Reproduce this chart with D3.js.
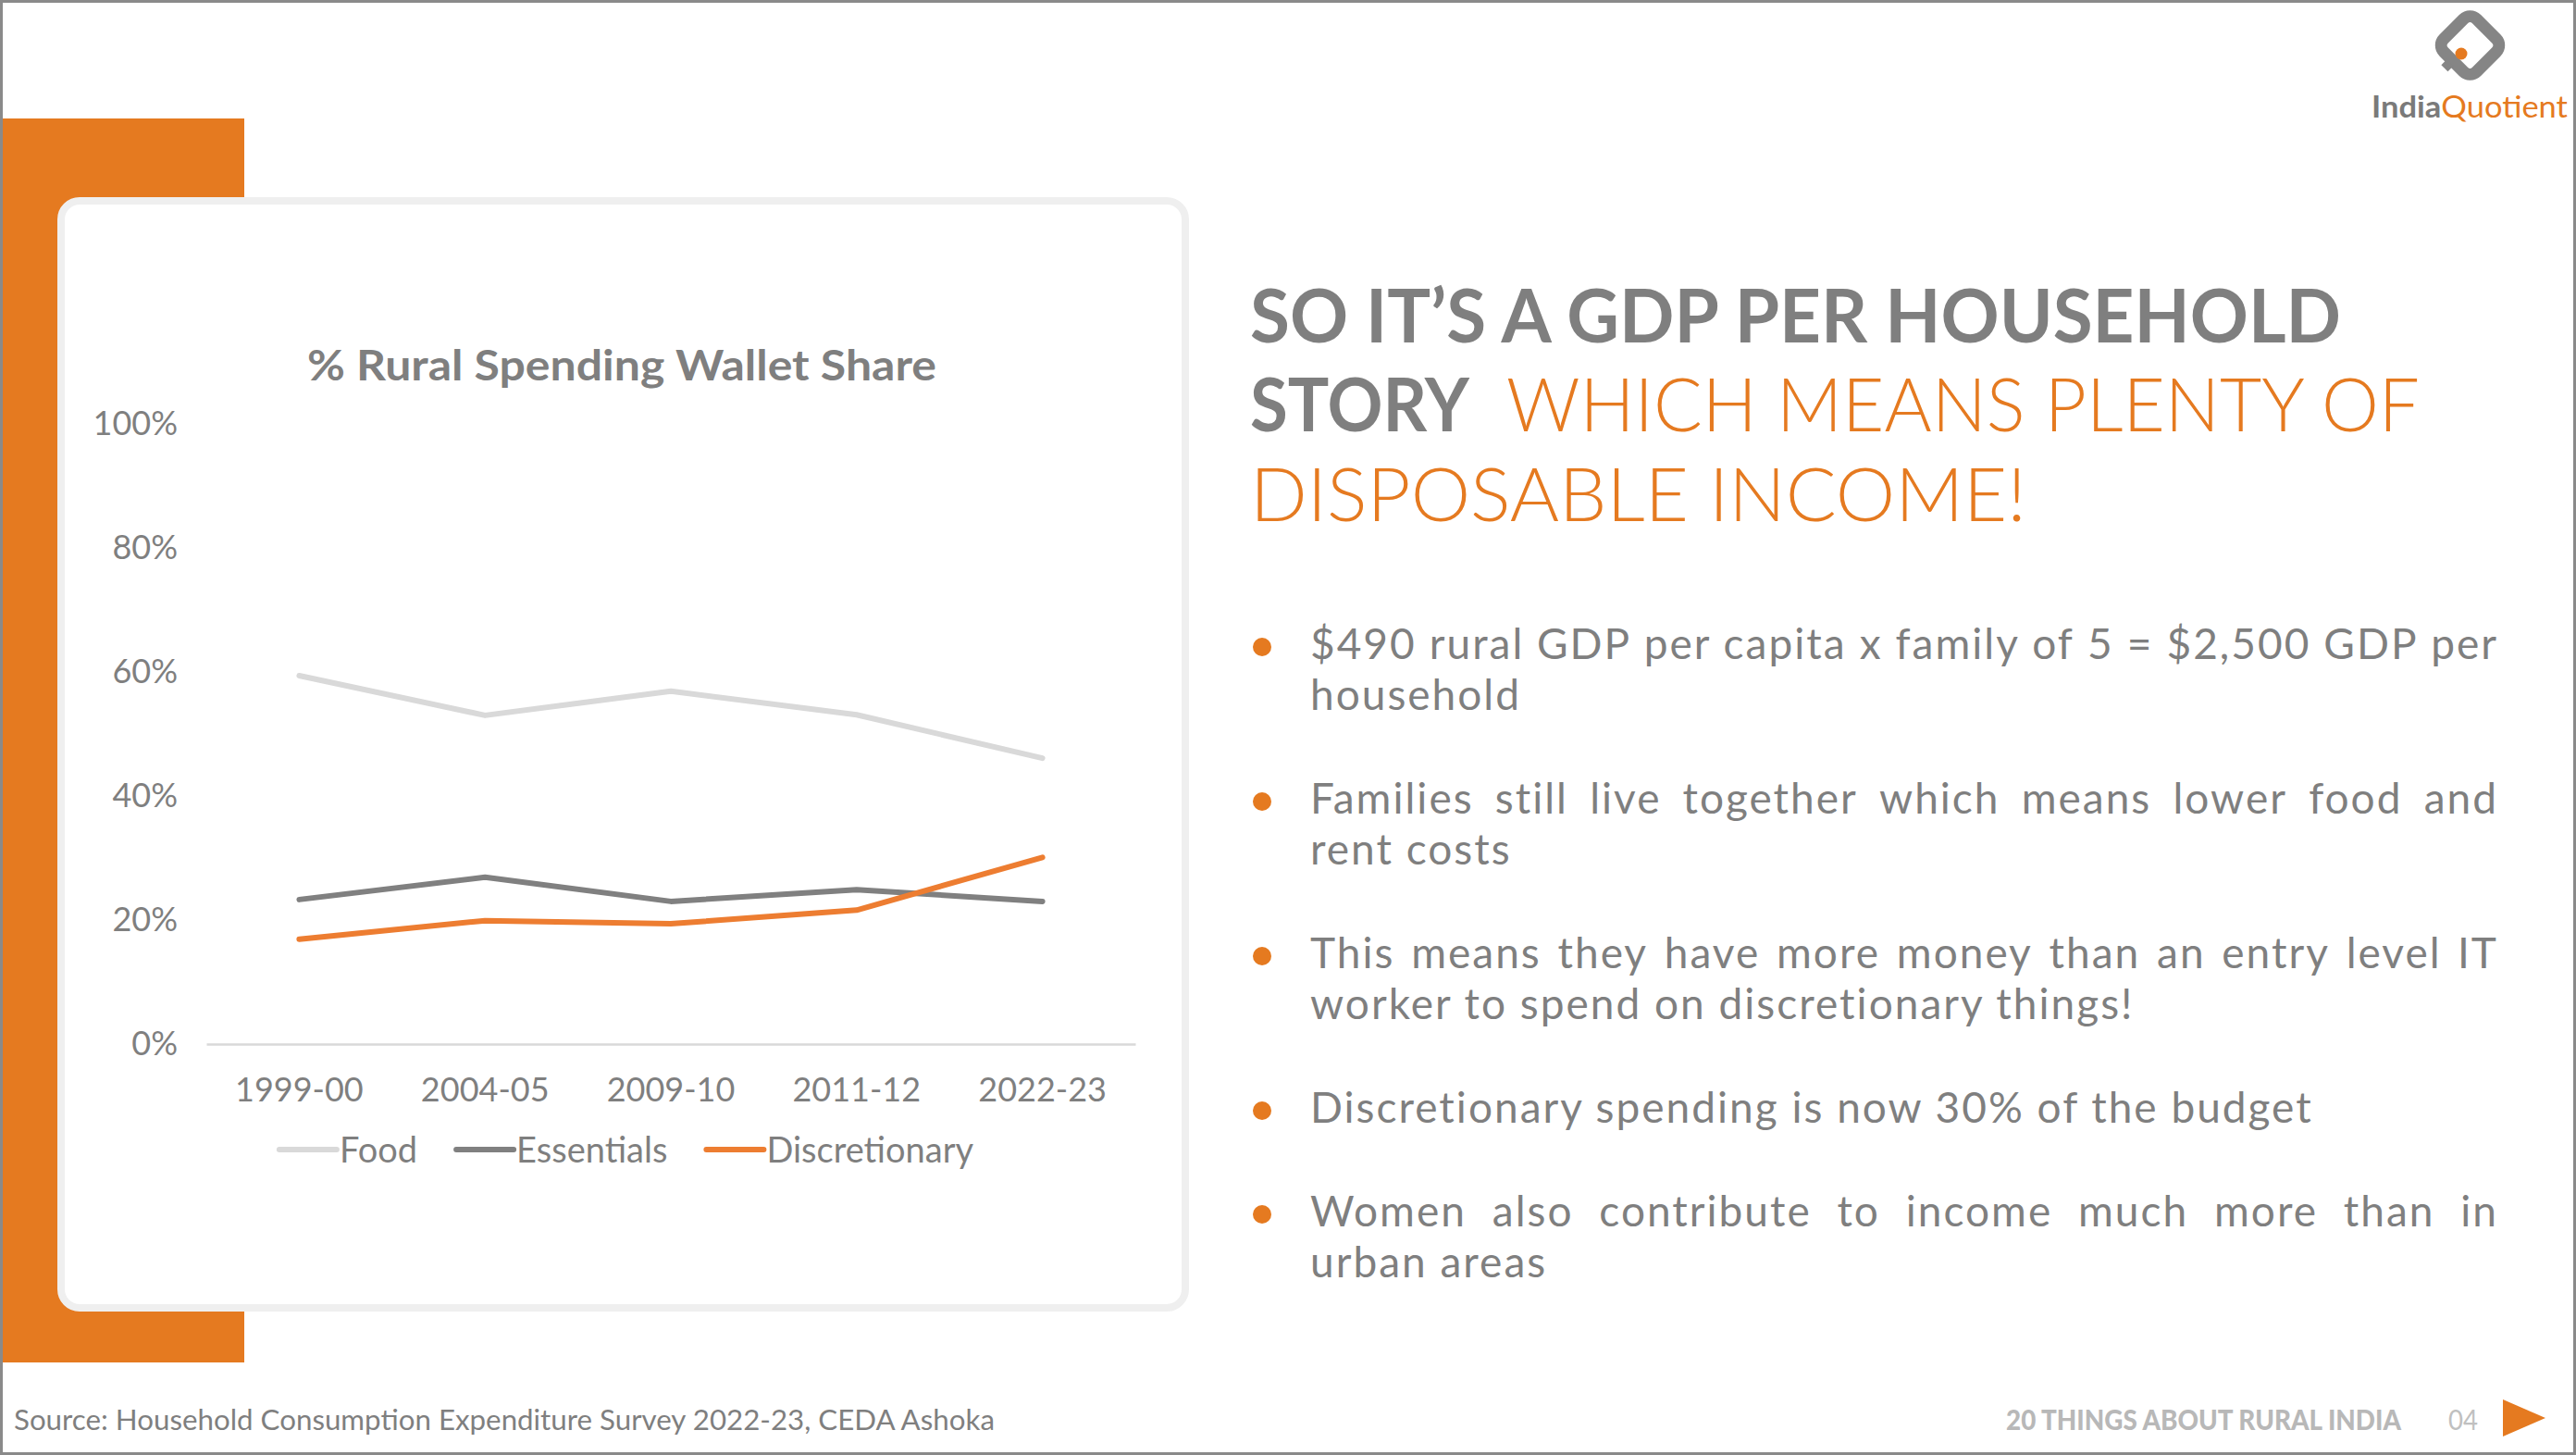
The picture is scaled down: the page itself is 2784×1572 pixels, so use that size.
<!DOCTYPE html>
<html>
<head>
<meta charset="utf-8">
<script src="https://cdn.jsdelivr.net/npm/d3@7"></script>
<style>
  body { margin: 0; background: #fff; }
  svg text { font-family: 'Century Gothic', 'Lato', 'Noto Sans', sans-serif; }
</style>
</head>
<body>
<div id="slide"></div>
<script>
// chart values
const years = ['1999-00', '2004-05', '2009-10', '2011-12', '2022-23']
const food = [59.4, 53.0, 56.9, 53.1, 46.1]
const essentials = [23.3, 26.9, 23.0, 24.9, 23.0]
const discretionary = [16.9, 19.9, 19.4, 21.6, 30.1]
const yTicks = [0, 20, 40, 60, 80, 100]
const seriesNames = ['Food', 'Essentials', 'Discretionary']
const seriesColors = ['#d9d9d9', '#808080', '#ed7d31']

// slide text
const chartTitle = '% Rural Spending Wallet Share'
const bullets = [
  ['$490 rural GDP per capita x family of 5 = $2,500 GDP per', 'household'],
  ['Families still live together which means lower food and', 'rent costs'],
  ['This means they have more money than an entry level IT', 'worker to spend on discretionary things!'],
  ['Discretionary spending is now 30% of the budget'],
  ['Women also contribute to income much more than in', 'urban areas']
]
const sourceText = 'Source: Household Consumption Expenditure Survey 2022-23, CEDA Ashoka'

const W = 2784, H = 1572
const grey = '#7f7f7f'
const orange = '#e57a20'

const svg = d3.select('#slide')
  .append('svg')
  .attr('width', W)
  .attr('height', H)

// stretch a text to the width it has on the slide
function fit (sel, w) {
  sel.attr('textLength', w).attr('lengthAdjust', 'spacingAndGlyphs')
  return sel
}

svg.append('rect').attr('width', W).attr('height', H).attr('fill', '#fff')

//orange bracket + card
svg.append('rect')
  .attr('x', 0).attr('y', 128)
  .attr('width', 264).attr('height', 1344)
  .attr('fill', orange)

svg.append('rect')
  .attr('x', 66).attr('y', 217)
  .attr('width', 1215).attr('height', 1196)
  .attr('rx', 20)
  .attr('fill', '#fff')
  .attr('stroke', '#efefef')
  .attr('stroke-width', 8)

// ---- the chart ----
const x = d3.scaleBand().domain(years).range([223, 1227])
const y = d3.scaleLinear().domain([0, 100]).range([1128, 458])
const cx = d => x(d) + x.bandwidth() / 2

svg.append('text')
  .attr('x', 672)
  .attr('y', 411)
  .attr('text-anchor', 'middle')
  .attr('font-size', 46)
  .attr('font-weight', 'bold')
  .attr('fill', grey)
  .text(chartTitle)
  .call(fit, 680)

const xAxis = svg.append('g')
  .attr('transform', 'translate(0,1128)')
  .call(d3.axisBottom(x).tickSize(0).tickPadding(36))
xAxis.select('.domain').attr('stroke', '#d9d9d9').attr('stroke-width', 2.5)
xAxis.selectAll('text').attr('font-size', 36).attr('fill', grey)

const yAxis = svg.append('g')
  .attr('transform', 'translate(200,0)')
  .call(d3.axisLeft(y).tickValues(yTicks).tickSize(0).tickPadding(8)
    .tickFormat(d => d + '%'))
yAxis.select('.domain').remove()
yAxis.selectAll('text').attr('font-size', 36).attr('fill', grey)

const series = [food, essentials, discretionary].map((v, i) => ({
  name: seriesNames[i], color: seriesColors[i], values: v
}))

const line = d3.line()
  .x((d, i) => cx(years[i]))
  .y(d => y(d))

svg.append('g')
  .selectAll('path')
  .data(series)
  .enter()
  .append('path')
  .attr('fill', 'none')
  .attr('stroke', d => d.color)
  .attr('stroke-width', 6)
  .attr('stroke-linecap', 'round')
  .attr('stroke-linejoin', 'round')
  .attr('d', d => line(d.values))

// legend, laid out by measured text width
const legend = svg.append('g')
let lx = 0
series.forEach(function (s, i) {
  const item = legend.append('g').attr('transform', 'translate(' + lx + ',0)')
  item.append('line')
    .attr('x1', 0).attr('x2', 62)
    .attr('y1', 1242).attr('y2', 1242)
    .attr('stroke', s.color)
    .attr('stroke-width', 6)
    .attr('stroke-linecap', 'round')
  const t = item.append('text')
    .attr('x', 65)
    .attr('y', 1256)
    .attr('font-size', 38)
    .attr('fill', grey)
    .text(s.name)
  lx += 65 + t.node().getComputedTextLength() + (i < series.length - 1 ? 42 : 0)
})
legend.attr('transform', 'translate(' + (677 - lx / 2) + ',0)')

// ---- headline ----
svg.append('text')
  .attr('x', 1351).attr('y', 370)
  .attr('font-size', 80).attr('font-weight', 'bold').attr('fill', grey)
  .text('SO IT’S A GDP PER HOUSEHOLD')
  .call(fit, 1179)

svg.append('text')
  .attr('x', 1351).attr('y', 466)
  .attr('font-size', 80).attr('font-weight', 'bold').attr('fill', grey)
  .text('STORY')
  .call(fit, 237)

svg.append('text')
  .attr('x', 1628).attr('y', 466)
  .attr('font-size', 80).attr('font-weight', 300).attr('fill', orange)
  .text('WHICH MEANS PLENTY OF')
  .call(fit, 987)

svg.append('text')
  .attr('x', 1351).attr('y', 563)
  .attr('font-size', 80).attr('font-weight', 300).attr('fill', orange)
  .text('DISPOSABLE INCOME!')
  .call(fit, 839)

// ---- bullets (justified like the slide) ----
const textX = 1416, textW = 1284
const bulletG = svg.append('g')

function writeLine (str, yb, justify) {
  const t = bulletG.append('text')
    .attr('y', yb)
    .attr('font-size', 46)
    .attr('letter-spacing', 2)
    .attr('fill', grey)
  if (!justify) {
    t.attr('x', textX).text(str)
    return
  }
  const words = str.split(' ')
  const spans = words.map(w => t.append('tspan').text(w))
  const widths = spans.map(s => s.node().getComputedTextLength())
  const gap = (textW - d3.sum(widths)) / (words.length - 1)
  let xx = textX
  spans.forEach(function (s, i) {
    s.attr('x', xx)
    xx += widths[i] + gap
  })
}

let by = 712
bullets.forEach(function (lines) {
  bulletG.append('circle')
    .attr('cx', 1364).attr('cy', by - 13)
    .attr('r', 10)
    .attr('fill', orange)
  lines.forEach(function (l, j) {
    writeLine(l, by + j * 55, j < lines.length - 1)
  })
  by += lines.length * 55 + 57
})

// ---- logo ----
const logo = svg.append('g').attr('transform', 'translate(2669.5,49) rotate(45)')
logo.append('rect')
  .attr('x', -25).attr('y', -25)
  .attr('width', 50).attr('height', 50)
  .attr('rx', 10)
  .attr('fill', 'none')
  .attr('stroke', '#858585')
  .attr('stroke-width', 13)
logo.append('rect')
  .attr('x', -7).attr('y', 28)
  .attr('width', 10).attr('height', 9)
  .attr('fill', '#858585')
svg.append('circle')
  .attr('cx', 2660).attr('cy', 58).attr('r', 6.5)
  .attr('fill', orange)

const brand = svg.append('text')
  .attr('x', 2563).attr('y', 127)
  .attr('font-size', 32)
brand.append('tspan').attr('font-weight', 'bold').attr('fill', '#7a7a7a').text('India')
brand.append('tspan').attr('fill', orange).text('Quotient')
fit(brand, 212)

// ---- footer ----
svg.append('text')
  .attr('x', 15).attr('y', 1545)
  .attr('font-size', 30).attr('fill', grey)
  .text(sourceText)
  .call(fit, 1060)

svg.append('text')
  .attr('x', 2168).attr('y', 1545)
  .attr('font-size', 31).attr('font-weight', 900).attr('fill', '#b8b8b8')
  .text('20 THINGS ABOUT RURAL INDIA')
  .call(fit, 427)

svg.append('text')
  .attr('x', 2646).attr('y', 1545)
  .attr('font-size', 30).attr('fill', '#c0c0c0')
  .text('04')
  .call(fit, 32)

svg.append('path')
  .attr('d', 'M2705,1512 L2751,1532 L2705,1552 Z')
  .attr('fill', orange)

// slide frame
svg.append('rect')
  .attr('x', 1.5).attr('y', 1.5)
  .attr('width', W - 3).attr('height', H - 3)
  .attr('fill', 'none')
  .attr('stroke', '#8a8a8a')
  .attr('stroke-width', 3)
</script>
</body>
</html>
